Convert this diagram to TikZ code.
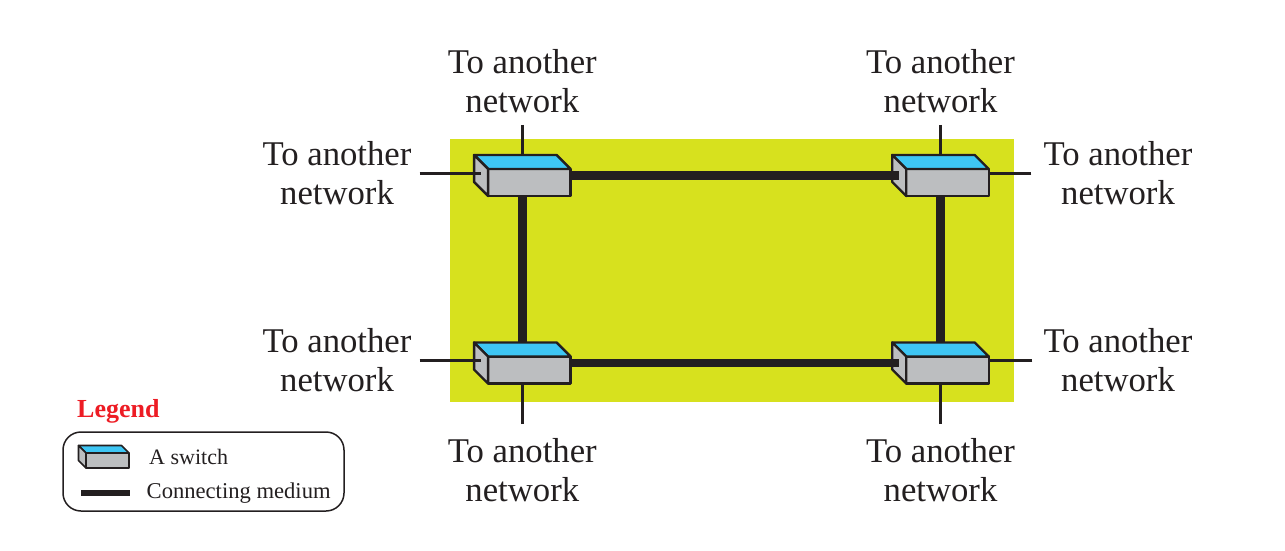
\documentclass[tikz,border=0pt]{standalone}
\usepackage{fontspec}
\setmainfont{Liberation Serif}
\usetikzlibrary{calc}
\definecolor{AreaClr}{HTML}{D7E11E}
\definecolor{TopClr}{HTML}{3EC6F4}
\definecolor{FrontClr}{HTML}{BCBEC0}
\definecolor{LineClr}{HTML}{231F20}
\definecolor{LegendClr}{HTML}{ED1C24}

\tikzset{
  netlabel/.style={align=center,text=LineClr,inner sep=8pt,font=\fontsize{34.7}{39}\selectfont},
  switchfront/.style={draw=LineClr,fill=FrontClr,line width=2.4pt,line join=round,outer sep=0pt,
    inner sep=0pt,minimum width=82.5pt,minimum height=27pt},
  thinlink/.style={draw=LineClr,line width=2.8pt},
  thicklink/.style={draw=LineClr,line width=8.5pt},
  legendtext/.style={text=LineClr,anchor=west,inner sep=0pt,font=\fontsize{22.6}{24}\selectfont}
}

% name, position, depth of the box
\newcommand{\SwitchBox}[4][]{
  \node[switchfront,#1] (#2) at (#3) {};
  \draw[LineClr,fill=TopClr,line width=2.4pt,line join=round,#1] (#2.north west) -- ++(-#4,-#4)
    -- ($(#2.north east)+(-#4,-#4)$) -- (#2.north east) -- cycle;
  \draw[LineClr,fill=FrontClr,line width=2.4pt,line join=round,#1] (#2.north west) -- ++(-#4,-#4)
    -- ($(#2.south west)+(-#4,-#4)$) -- (#2.south west) -- cycle;
  \coordinate (#2 back) at ($(#2.north)+(-#4/2,-#4)$);
  \coordinate (#2 under) at ($(#2.south)+(-#4/2,0)$);
  \coordinate (#2 port) at ($(#2.west)+(-#4/2,-#4/2)$);
  \coordinate (#2 side) at ($(#2.east)+(0,-#4/2)$);
}

\begin{document}
\begin{tikzpicture}[x=1pt,y=-1pt]
\useasboundingbox (0,0) rectangle (1285,551);

\fill[AreaClr] (450,139) rectangle (1014,402);

\SwitchBox{swNW}{529.3,182.5}{14}
\SwitchBox{swNE}{947.5,182.5}{14}
\SwitchBox{swSW}{529.3,370}{14}
\SwitchBox{swSE}{947.5,370}{14}

\node[netlabel,inner ysep=12pt] (topW) at (522.3,81) {To another\\network};
\node[netlabel,inner ysep=12pt] (topE) at (940.5,81) {To another\\network};
\node[netlabel] (sideNW) at (337,173.6) {To another\\network};
\node[netlabel,inner xsep=12pt] (sideNE) at (1118,173.6) {To another\\network};
\node[netlabel] (sideSW) at (337,360.6) {To another\\network};
\node[netlabel,inner xsep=11pt] (sideSE) at (1118,360.6) {To another\\network};
\node[netlabel,inner ysep=14pt] (botW) at (522.3,470) {To another\\network};
\node[netlabel,inner ysep=14pt] (botE) at (940.5,470) {To another\\network};

% the ring
\draw[thicklink] (swNW side) -- (swNE port);
\draw[thicklink] (swSW side) -- (swSE port);
\draw[thicklink] (swNW under) -- (swSW back);
\draw[thicklink] (swNE under) -- (swSE back);

% lines that leave the network
\draw[thinlink] (topW.south) -- (swNW back);
\draw[thinlink] (topE.south) -- (swNE back);
\draw[thinlink] (sideNW.east) -- (sideNW.east -| swNW port);
\draw[thinlink] (sideNE.west) -- (sideNE.west -| swNE side);
\draw[thinlink] (sideSW.east) -- (sideSW.east -| swSW port);
\draw[thinlink] (sideSE.west) -- (sideSE.west -| swSE side);
\draw[thinlink] (botW.north) -- (swSW under);
\draw[thinlink] (botE.north) -- (swSE under);

% legend
\node[anchor=west,inner sep=0pt,text=LegendClr,font=\fontsize{26}{28}\selectfont\bfseries] (legendtitle) at (77,411) {Legend};
\node[draw=LineClr,line width=1.5pt,rounded corners=18pt,minimum width=281pt,minimum height=79pt] (legendbox) at (203.5,471.5) {};
\SwitchBox[minimum width=43pt,minimum height=15pt,line width=1.6pt]{swKey}{107.5,460.5}{7.5}
\node[legendtext,font=\fontsize{22}{24}\selectfont] (keyswitch) at (149,457) {A switch};
\node[legendtext] (keymedium) at (146.5,493) {Connecting medium};
\coordinate (keyA) at (81,493);
\coordinate (keyB) at (130,493);
\draw[LineClr,line width=6pt] (keyA) -- (keyB);

\end{tikzpicture}
\end{document}
